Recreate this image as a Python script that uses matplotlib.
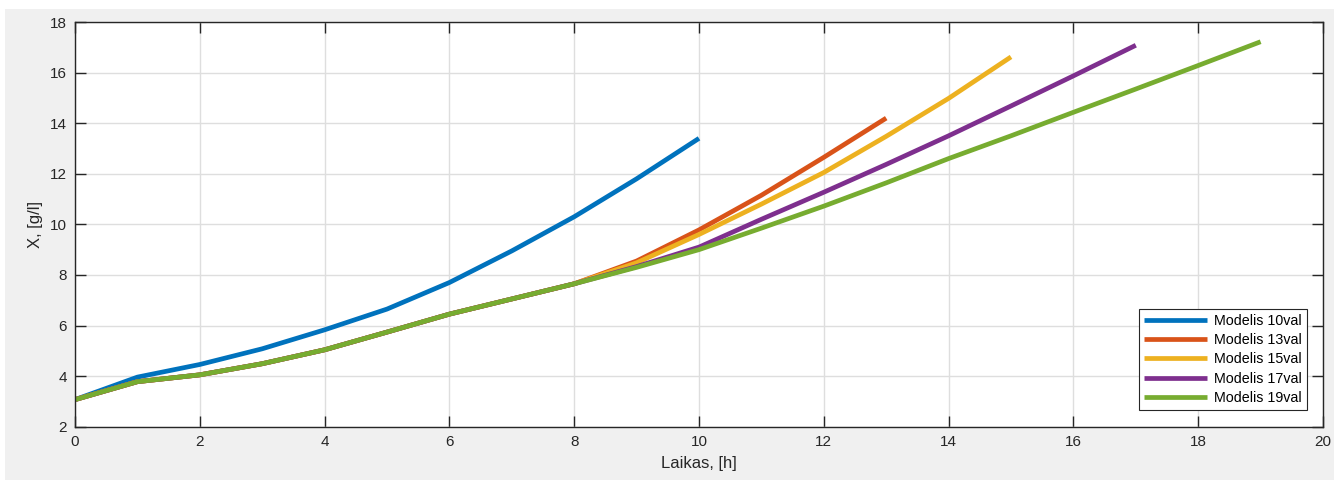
import matplotlib
matplotlib.use("Agg")
import matplotlib.pyplot as plt
from matplotlib.patches import Rectangle

plt.rcParams['font.family'] = ['Liberation Sans', 'DejaVu Sans']

# ---- data ----
t10 = [0, 1, 2, 3, 4, 5, 6, 7, 8, 9, 10]
x10 = [3.07, 3.96, 4.46, 5.08, 5.83, 6.65, 7.7, 8.95, 10.3, 11.8, 13.4]

t13 = [0, 1, 2, 3, 4, 5, 6, 7, 8, 9, 10, 11, 12, 13]
x13 = [3.07, 3.78, 4.05, 4.49, 5.04, 5.74, 6.45, 7.05, 7.65, 8.55, 9.78, 11.15, 12.65, 14.2]

t15 = [0, 1, 2, 3, 4, 5, 6, 7, 8, 9, 10, 11, 12, 13, 14, 15]
x15 = [3.07, 3.78, 4.05, 4.49, 5.04, 5.74, 6.45, 7.05, 7.65, 8.48, 9.6, 10.8, 12.05, 13.48, 14.98, 16.62]

t17 = [0, 1, 2, 3, 4, 5, 6, 7, 8, 9, 10, 11, 12, 13, 14, 15, 16, 17]
x17 = [3.07, 3.78, 4.05, 4.49, 5.04, 5.74, 6.45, 7.05, 7.65, 8.33, 9.1, 10.2, 11.27, 12.37, 13.5, 14.68, 15.87, 17.08]

t19 = [0, 1, 2, 3, 4, 5, 6, 7, 8, 9, 10, 11, 12, 13, 14, 15, 16, 17, 18, 19]
x19 = [3.07, 3.78, 4.05, 4.49, 5.04, 5.74, 6.45, 7.05, 7.65, 8.3, 9.0, 9.85, 10.72, 11.64,
       12.6, 13.5, 14.43, 15.35, 16.28, 17.22]

labels = ['Modelis 10val', 'Modelis 13val', 'Modelis 15val', 'Modelis 17val', 'Modelis 19val']
colors = ['#0072BD', '#D95319', '#EDB120', '#7E2F8E', '#77AC30']

xticks = [0, 2, 4, 6, 8, 10, 12, 14, 16, 18, 20]
yticks = [2, 4, 6, 8, 10, 12, 14, 16, 18]

# ---- figure ----
fig = plt.figure(figsize=(13.34, 4.8), dpi=100, facecolor='white')
fig.patches.append(Rectangle((5 / 1334, 0), 1 - 5 / 1334, (480 - 9) / 480,
                             transform=fig.transFigure, facecolor='#f0f0f0',
                             edgecolor='none', zorder=-10))

ax = fig.add_axes([75 / 1334, (480 - 426.7) / 480, (1323 - 75) / 1334, (426.7 - 22) / 480])
ax.set_facecolor('white')

series = [(t10, x10), (t13, x13), (t15, x15), (t17, x17), (t19, x19)]
for (t, x), lab, c in zip(series, labels, colors):
    ax.plot(t, x, color=c, lw=3.4, label=lab, solid_capstyle='butt', solid_joinstyle='round')

ax.set_xlim(0, 20)
ax.set_ylim(2, 18)
ax.set_xticks(xticks)
ax.set_yticks(yticks)
ax.grid(True, color='#dedede', lw=1)
ax.set_axisbelow(True)

for sp in ax.spines.values():
    sp.set_color('#262626')
    sp.set_linewidth(1.0)

ax.tick_params(direction='in', length=8, width=1, color='#262626',
               labelsize=11, labelcolor='#262626', top=True, right=True, pad=6)

ax.set_xlabel('Laikas, [h]', fontsize=12, color='#262626', labelpad=5)
ax.set_ylabel('X, [g/l]', fontsize=12, color='#262626', labelpad=5)

leg = ax.legend(loc='lower right', bbox_to_anchor=(0.987, 0.042), borderaxespad=0,
                fontsize=10.3, frameon=True, fancybox=False, handlelength=4.4,
                handletextpad=0.5, labelspacing=0.36, borderpad=0.35)
leg.get_frame().set_edgecolor('#262626')
leg.get_frame().set_linewidth(0.8)
leg.get_frame().set_alpha(1)

fig.savefig('out.png', dpi=100, facecolor=fig.get_facecolor())
